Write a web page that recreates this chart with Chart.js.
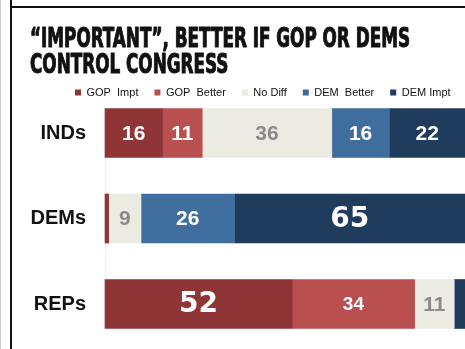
<!DOCTYPE html>
<html>
<head>
<meta charset="utf-8">
<script src="https://cdn.jsdelivr.net/npm/chart.js@4/dist/chart.umd.min.js"></script>
<style>
  html, body { margin: 0; padding: 0; background: #fff; }
  #wrap { position: relative; width: 465px; height: 349px; overflow: hidden; }
  #edge { position: absolute; left: 0; top: 0; width: 1px; height: 349px; background: #c8c8c8; }
  #frameLeft { position: absolute; left: 10px; top: 0; width: 2px; height: 349px; background: #111; }
  #frameTop { position: absolute; left: 10px; top: 6px; width: 455px; height: 2px; background: #111; }
  canvas { position: absolute; left: 0; top: 0; }
</style>
</head>
<body>
<div id="wrap">
  <div id="edge"></div>
  <div id="frameLeft"></div>
  <div id="frameTop"></div>
  <canvas id="chart" width="465" height="349"></canvas>
</div>
<script>
// 数据
const titleLines = ['\u201CIMPORTANT\u201D, BETTER IF GOP OR DEMS', 'CONTROL CONGRESS'];
const categories = ['INDs', 'DEMs', 'REPs'];
const seriesNames = ['GOP  Impt', 'GOP  Better', 'No Diff', 'DEM  Better', 'DEM Impt'];
const gopImpt = [16, 1, 52];
const gopBetter = [11, 0, 34];
const noDiff = [36, 9, 11];
const demBetter = [16, 26, 0];
const demImpt = [22, 65, 3];

// 样式
const seriesColors = ['#8f3536', '#b9504f', '#ecebe1', '#3e6d9e', '#1f3c5d'];
const labelColors = ['#ffffff', '#ffffff', '#8a8a8a', '#ffffff', '#ffffff'];
// 每个系列、每个类别的数字字号 (0 = 不显示)
const labelSizes = [
  [21, 0, 28],
  [21, 0, 19],
  [21, 21, 21],
  [21, 21, 0],
  [21, 28, 0]
];

const seriesValues = [gopImpt, gopBetter, noDiff, demBetter, demImpt];

const datasets = seriesNames.map((name, i) => ({
  label: name,
  data: seriesValues[i],
  backgroundColor: seriesColors[i],
  borderWidth: 0,
  barThickness: 49,
  clip: false
}));

// 标题 (窄体, 水平压缩, 加粗描边)
const titleDraw = {
  id: 'titleDraw',
  beforeDraw(chart) {
    const ctx = chart.ctx;
    ctx.save();
    ctx.font = 'bold 26px "DejaVu Sans Condensed", "DejaVu Sans", sans-serif';
    ctx.fillStyle = '#111';
    ctx.strokeStyle = '#111';
    ctx.lineWidth = 1;
    ctx.lineJoin = 'round';
    ctx.textAlign = 'left';
    ctx.textBaseline = 'alphabetic';
    const sx = 380 / ctx.measureText(titleLines[0]).width;
    titleLines.forEach((line, i) => {
      ctx.save();
      ctx.translate(30, 47 + i * 26);
      ctx.scale(sx, 1);
      ctx.fillText(line, 0, 0);
      ctx.strokeText(line, 0, 0);
      ctx.restore();
    });
    ctx.restore();
  }
};

// 段内数字
const barLabels = {
  id: 'barLabels',
  afterDatasetsDraw(chart) {
    const ctx = chart.ctx;
    ctx.save();
    ctx.textAlign = 'center';
    ctx.textBaseline = 'middle';
    chart.data.datasets.forEach((ds, di) => {
      const meta = chart.getDatasetMeta(di);
      meta.data.forEach((bar, idx) => {
        const size = labelSizes[di][idx];
        if (!size) return;
        const p = bar.getCenterPoint();
        const right = Math.min(bar.x, chart.width);
        const cx = (Math.max(bar.base, 0) + right) / 2;
        ctx.fillStyle = labelColors[di];
        ctx.font = size >= 26
          ? 'bold ' + size + 'px "DejaVu Sans", sans-serif'
          : 'bold ' + size + 'px "Liberation Sans", Arial, sans-serif';
        ctx.fillText(String(ds.data[idx]), cx, p.y + 1);
      });
    });
    ctx.restore();
  }
};

// 图例位置微调
const legendPlace = {
  id: 'legendPlace',
  afterLayout(chart) {
    const lg = chart.legend;
    if (!lg) return;
    const h = lg.bottom - lg.top;
    lg.left = 59;
    lg.right = 59 + 440;
    lg.top = 71;
    lg.bottom = 71 + h;
  }
};

new Chart(document.getElementById('chart'), {
  type: 'bar',
  data: { labels: categories, datasets: datasets },
  plugins: [titleDraw, barLabels, legendPlace],
  options: {
    indexAxis: 'y',
    responsive: false,
    animation: false,
    layout: { padding: { left: 29, right: 0, top: 96, bottom: 45 } },
    plugins: {
      tooltip: { enabled: false },
      title: { display: false },
      legend: {
        display: true,
        position: 'top',
        align: 'start',
        labels: {
          color: '#111',
          font: { family: '"Liberation Sans", Arial, sans-serif', size: 11 },
          boxWidth: 6,
          boxHeight: 6,
          padding: 16
        }
      }
    },
    scales: {
      x: {
        stacked: true,
        display: false,
        min: 0,
        max: 100
      },
      y: {
        stacked: true,
        offset: false,
        grid: { display: false, drawTicks: false },
        border: { display: true, color: '#eeeeee' },
        ticks: {
          color: '#111',
          padding: 19,
          font: { family: '"Liberation Sans", Arial, sans-serif', size: 20, weight: 'bold' }
        },
        afterFit(scale) { scale.width = 76; }
      }
    }
  }
});
</script>
</body>
</html>
